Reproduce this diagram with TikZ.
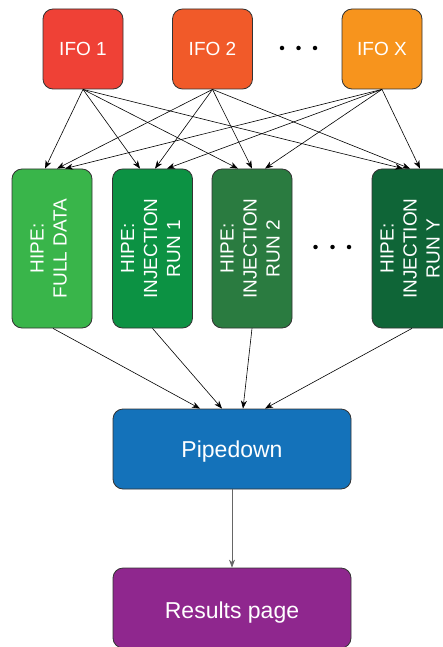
\documentclass[tikz,border=0pt]{standalone}
\usepackage{fontspec}
\setmainfont{Liberation Sans}
\usetikzlibrary{arrows.meta,calc}
\definecolor{cifoa}{HTML}{EF4136}
\definecolor{cifob}{HTML}{F15A29}
\definecolor{cifox}{HTML}{F7941D}
\definecolor{cga}{HTML}{39B54A}
\definecolor{cgb}{HTML}{0C9243}
\definecolor{cgc}{HTML}{2A7B40}
\definecolor{cgd}{HTML}{0F6537}
\definecolor{cpipe}{HTML}{1472BA}
\definecolor{cres}{HTML}{8F278E}
\definecolor{cedge}{HTML}{333333}
\tikzset{
  box/.style={draw=cedge, line width=0.8pt, rounded corners=10pt, text=white, inner sep=0pt},
  ifobox/.style={box, minimum width=80pt, minimum height=80pt, font=\fontsize{19}{23}\selectfont, text height=13.7pt, text depth=0pt},
  hipebox/.style={box, minimum width=80pt, minimum height=159pt},
  widebox/.style={box, minimum width=238pt, minimum height=80pt, font=\fontsize{23}{27}\selectfont, text height=16.5pt, text depth=0pt},
  arr/.style={-{Stealth[length=8pt,width=6pt,inset=2.5pt]}, line width=0.6pt, black},
  dotm/.style={circle, fill=black, inner sep=0pt, minimum size=4.5pt},
}
\newcommand{\rotlines}[1]{\rotatebox{90}{\fontsize{19}{23}\selectfont\begin{tabular}{@{}c@{}}#1\end{tabular}}}
\begin{document}
\begin{tikzpicture}[x=1pt,y=-1pt]
\useasboundingbox (0,0) rectangle (443,647);
\clip (0,0) rectangle (443,647);
% top row
\node[ifobox, fill=cifoa] (ifo1) at (83,49) {IFO 1};
\node[ifobox, fill=cifob] (ifo2) at (212.5,49) {IFO 2};
\node[ifobox, fill=cifox] (ifox) at (382,49) {IFO X};
\node[dotm] (d1) at (282,48) {};
\node[dotm] (d2) at (298.5,48) {};
\node[dotm] (d3) at (315,48) {};
% second row
\node[hipebox, fill=cga] (h1) at (52,248.5) {\hspace*{-3pt}\rotlines{HIPE:\\FULL DATA}};
\node[hipebox, fill=cgb] (h2) at (152.5,248.5) {\rotlines{HIPE:\\INJECTION\\RUN 1}};
\node[hipebox, fill=cgc] (h3) at (252,248.5) {\rotlines{HIPE:\\INJECTION\\RUN 2}};
\node[hipebox, fill=cgd] (h4) at (412,248.5) {\rotlines{HIPE:\\INJECTION\\RUN Y}};
\node[dotm] (e1) at (315.5,247) {};
\node[dotm] (e2) at (332.5,247) {};
\node[dotm] (e3) at (349,247) {};
% lower
\node[widebox, fill=cpipe] (pipe) at (232,449) {Pipedown};
\node[widebox, fill=cres] (res) at (232,608) {\raisebox{-2.5pt}{Results page}};
% IFO -> HIPE
\foreach \h/\a/\b/\c in {h1/-7/5/13, h2/-12.5/2.5/14.5, h3/-14/0/13, h4/-9/-2/8}{
  \draw[arr] (ifo1.south) -- ($(\h.north)+(\a,0)$);
  \draw[arr] (ifo2.south) -- ($(\h.north)+(\b,0)$);
  \draw[arr] (ifox.south) -- ($(\h.north)+(\c,0)$);
}
% HIPE -> Pipedown
\draw[arr] ($(h1.south)+(1,0)$) -- ($(pipe.north)+(-32,0)$);
\draw[arr] (h2.south) -- ($(pipe.north)+(-10,0)$);
\draw[arr] (h3.south) -- ($(pipe.north)+(11,0)$);
\draw[arr] (h4.south) -- ($(pipe.north)+(33,0)$);
% Pipedown -> Results
\draw[-{Stealth[length=8pt,width=6pt,inset=2.5pt]}, line width=0.7pt, draw=black!60, fill=black!80] (pipe.south) -- (res.north);
\end{tikzpicture}
\end{document}
